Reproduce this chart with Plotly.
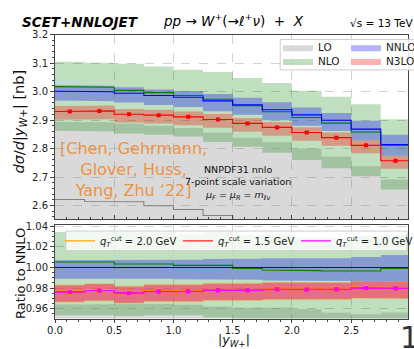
import plotly.graph_objects as go

# ---------------- data ----------------
edges = [0.0, 0.25, 0.5, 0.75, 1.0, 1.25, 1.5, 1.75, 2.0, 2.25, 2.5, 2.75, 3.0]

lo_c  = [2.621, 2.614, 2.613, 2.599, 2.586, 2.565, 2.540, 2.515, 2.485, 2.455, 2.415, 2.365]
lo_hi = [2.893, 2.892, 2.887, 2.880, 2.872, 2.855, 2.838, 2.822, 2.800, 2.772, 2.738, 2.691]
lo_lo = [2.370, 2.360, 2.360, 2.350, 2.330, 2.310, 2.290, 2.260, 2.230, 2.200, 2.160, 2.110]

nlo_c  = [3.017, 3.015, 3.004, 2.996, 2.986, 2.973, 2.950, 2.929, 2.909, 2.889, 2.858, 2.811]
nlo_hi = [3.104, 3.101, 3.097, 3.088, 3.076, 3.068, 3.047, 3.030, 3.003, 2.982, 2.955, 2.903]
nlo_lo = [2.862, 2.860, 2.853, 2.848, 2.842, 2.823, 2.806, 2.785, 2.760, 2.731, 2.703, 2.656]

nnlo_c  = [3.001, 2.999, 2.994, 2.986, 2.980, 2.967, 2.953, 2.936, 2.918, 2.899, 2.868, 2.814]
nnlo_hi = [3.022, 3.020, 3.015, 3.007, 3.002, 2.991, 2.978, 2.962, 2.944, 2.925, 2.897, 2.848]
nnlo_lo = [2.968, 2.966, 2.961, 2.953, 2.946, 2.931, 2.918, 2.899, 2.880, 2.861, 2.829, 2.775]

# N3LO, q_T^cut = 1.5 GeV (shown in the main panel)
n3lo_c   = [2.930, 2.932, 2.920, 2.917, 2.911, 2.902, 2.888, 2.874, 2.856, 2.838, 2.811, 2.757]
n3lo_hi  = [2.949, 2.951, 2.939, 2.936, 2.930, 2.921, 2.907, 2.893, 2.875, 2.856, 2.829, 2.775]
n3lo_lo  = [2.901, 2.903, 2.891, 2.888, 2.882, 2.873, 2.859, 2.845, 2.827, 2.810, 2.783, 2.729]
n3lo_err = [0.002, 0.002, 0.002, 0.002, 0.002, 0.002, 0.002, 0.002, 0.002, 0.002, 0.002, 0.002]

# N3LO, q_T^cut = 2.0 GeV
q20_c  = [2.932, 2.934, 2.922, 2.919, 2.913, 2.903, 2.890, 2.876, 2.858, 2.840, 2.813, 2.759]
q20_hi = [2.952, 2.954, 2.942, 2.939, 2.933, 2.923, 2.909, 2.895, 2.877, 2.858, 2.831, 2.777]
q20_lo = [2.898, 2.900, 2.888, 2.885, 2.879, 2.870, 2.857, 2.843, 2.825, 2.807, 2.780, 2.727]

# N3LO, q_T^cut = 1.0 GeV
q10_c  = [2.930, 2.932, 2.920, 2.916, 2.911, 2.901, 2.888, 2.874, 2.856, 2.838, 2.811, 2.757]
q10_hi = [2.948, 2.950, 2.938, 2.935, 2.929, 2.919, 2.906, 2.892, 2.874, 2.856, 2.828, 2.774]
q10_lo = [2.902, 2.904, 2.892, 2.889, 2.883, 2.874, 2.860, 2.846, 2.828, 2.811, 2.784, 2.731]

x_ticks_top = [0.0, 0.5, 1.0, 1.5, 2.0, 2.5, 3.0]

# ---------------- helpers ----------------
centers = [(edges[i] + edges[i + 1]) / 2 for i in range(len(edges) - 1)]


def step(vals):
    xs, ys = [], []
    for i, v in enumerate(vals):
        xs += [edges[i], edges[i + 1]]
        ys += [v, v]
    return xs, ys


def band(lo_v, hi_v):
    xu, yu = step(hi_v)
    xl, yl = step(lo_v)
    return xu + xl[::-1], yu + yl[::-1]


def ratio(vals):
    return [a / b for a, b in zip(vals, nnlo_c)]


GREY_F = "rgba(128,128,128,0.30)"
GREEN_F = "rgba(0,128,0,0.25)"
BLUE_F = "rgba(0,0,255,0.30)"
RED_F = "rgba(255,0,0,0.30)"
ORANGE_F = "rgba(255,165,0,0.30)"
MAG_F = "rgba(255,0,255,0.22)"

fig = go.Figure()


def add_band(lo_v, hi_v, color, name, xa, ya, legend=None):
    bx, by = band(lo_v, hi_v)
    fig.add_trace(go.Scatter(x=bx, y=by, fill="toself", fillcolor=color, mode="lines",
                             line=dict(width=0, color=color), name=name,
                             showlegend=legend is not None, legend=legend or "legend",
                             xaxis=xa, yaxis=ya, hoverinfo="skip"))


def add_line(vals, color, xa, ya, width=1.1, name=None, legend=None):
    sx, sy = step(vals)
    fig.add_trace(go.Scatter(x=sx, y=sy, mode="lines", line=dict(color=color, width=width),
                             name=name, showlegend=legend is not None, legend=legend or "legend",
                             xaxis=xa, yaxis=ya, hoverinfo="skip"))


# ---------------- top panel ----------------
add_band(lo_lo, lo_hi, GREY_F, "LO", "x", "y", "legend")
add_band(nlo_lo, nlo_hi, GREEN_F, "NLO", "x", "y", "legend2")
add_band(nnlo_lo, nnlo_hi, BLUE_F, "NNLO", "x", "y", "legend")
add_band(n3lo_lo, n3lo_hi, RED_F, "N3LO", "x", "y", "legend2")
add_line(lo_c, "#808080", "x", "y")
add_line(nlo_c, "#008000", "x", "y")
add_line(nnlo_c, "#0000ff", "x", "y")
add_line(n3lo_c, "#ff0000", "x", "y")
fig.add_trace(go.Scatter(x=centers, y=n3lo_c, mode="markers",
                         marker=dict(symbol="square", size=4, color="#ff0000"),
                         error_y=dict(type="data", array=n3lo_err, color="#ff0000", width=2, thickness=1),
                         showlegend=False, xaxis="x", yaxis="y", hoverinfo="skip"))

# ---------------- ratio panel ----------------
add_band(ratio(lo_lo), ratio(lo_hi), GREY_F, None, "x2", "y2")
add_band(ratio(nlo_lo), ratio(nlo_hi), GREEN_F, None, "x2", "y2")
add_band(ratio(nnlo_lo), ratio(nnlo_hi), BLUE_F, None, "x2", "y2")
add_band(ratio(q20_lo), ratio(q20_hi), ORANGE_F, None, "x2", "y2")
add_band(ratio(n3lo_lo), ratio(n3lo_hi), RED_F, None, "x2", "y2")
add_band(ratio(q10_lo), ratio(q10_hi), MAG_F, None, "x2", "y2")
add_line(ratio(nlo_c), "#008000", "x2", "y2")
add_line(ratio(nnlo_c), "#0000ff", "x2", "y2")
add_line(ratio(q20_c), "#ffa500", "x2", "y2", 1.2,
         "<i>q</i><sub><i>T</i></sub><sup>cut</sup> = 2.0 GeV", "legend3")
add_line(ratio(n3lo_c), "#ff2020", "x2", "y2", 1.2,
         "<i>q</i><sub><i>T</i></sub><sup>cut</sup> = 1.5 GeV", "legend3")
add_line(ratio(q10_c), "#ff00ff", "x2", "y2", 1.2,
         "<i>q</i><sub><i>T</i></sub><sup>cut</sup> = 1.0 GeV", "legend3")
for vals, col in [(q20_c, "#ffa500"), (n3lo_c, "#ff2020"), (q10_c, "#ff00ff")]:
    fig.add_trace(go.Scatter(x=centers, y=ratio(vals), mode="markers",
                             marker=dict(symbol="square", size=4, color=col),
                             showlegend=False, xaxis="x2", yaxis="y2", hoverinfo="skip"))

# ---------------- layout ----------------
W, H = 414, 349
L = 55
PW = W - L


def px_x(p):
    return (p - L) / PW


def px_y(p):
    return 1 - p / H


font = "DejaVu Sans"
axis_common = dict(showline=True, linecolor="#444", linewidth=1, mirror=True,
                   showgrid=True, gridcolor="#d2d2d2", griddash="dash", gridwidth=0.8,
                   tickfont=dict(family=font, size=10, color="#222"), tickcolor="#444",
                   zeroline=False)

fig.update_layout(
    width=W, height=H,
    margin=dict(l=L, r=0, t=0, b=0, pad=0),
    paper_bgcolor="white", plot_bgcolor="white",
    font=dict(family=font, color="#222"),
    xaxis=dict(domain=[0, 1], range=[0, 2.98], anchor="y", showticklabels=False,
               tickvals=x_ticks_top, ticks="inside", ticklen=4,
               minor=dict(ticks="inside", dtick=0.1, ticklen=2, tickcolor="#444", showgrid=False),
               **axis_common),
    yaxis=dict(domain=[px_y(217), px_y(29)], range=[2.5517, 3.2], anchor="x",
               dtick=0.1, tickformat=".1f", ticks="outside", ticklen=4,
               minor=dict(ticks="outside", dtick=0.02, ticklen=2, tickcolor="#444", showgrid=False),
               **axis_common),
    xaxis2=dict(domain=[0, 1], range=[0, 2.98], anchor="y2", matches="x",
                tickvals=x_ticks_top, tickformat=".1f", ticks="outside", ticklen=3,
                ticklabelstandoff=-1,
                minor=dict(ticks="outside", dtick=0.1, ticklen=2, tickcolor="#444", showgrid=False),
                **axis_common),
    yaxis2=dict(domain=[px_y(318), px_y(223)], range=[0.9505, 1.041], anchor="x2",
                dtick=0.02, tickformat=".2f", ticks="outside", ticklen=4,
                minor=dict(ticks="outside", dtick=0.005, ticklen=2, tickcolor="#444", showgrid=False),
                **axis_common),
    legend=dict(x=px_x(282), y=px_y(42), xanchor="left", yanchor="middle",
                orientation="h", entrywidth=23, entrywidthmode="pixels",
                bgcolor="rgba(0,0,0,0)", borderwidth=0,
                font=dict(family=font, size=10.5, color="#222"), tracegroupgap=0),
    legend2=dict(x=px_x(282), y=px_y(56), xanchor="left", yanchor="middle",
                 orientation="h", entrywidth=23, entrywidthmode="pixels",
                 bgcolor="rgba(0,0,0,0)", borderwidth=0,
                 font=dict(family=font, size=10.5, color="#222")),
    legend3=dict(x=px_x(64), y=px_y(239), xanchor="left", yanchor="middle",
                 orientation="h", entrywidth=73, entrywidthmode="pixels",
                 bgcolor="rgba(0,0,0,0)", borderwidth=0,
                 font=dict(family=font, size=10, color="#222")),
)

# legend frames
fig.add_shape(type="rect", xref="paper", yref="paper", x0=px_x(284), x1=1.05,
              y0=px_y(65), y1=px_y(34), fillcolor="rgba(255,255,255,0.85)",
              line=dict(color="#cccccc", width=1), layer="above")
fig.add_shape(type="rect", xref="paper", yref="paper", x0=px_x(66), x1=px_x(413),
              y0=px_y(249), y1=px_y(229), fillcolor="rgba(255,255,255,0.8)",
              line=dict(color="#cccccc", width=1), layer="above")

ann = [
    dict(text="<b><i>SCET+NNLOJET</i></b>", x=px_x(19), y=px_y(16), xanchor="left",
         yanchor="middle", font=dict(size=13.5, color="#000")),
    dict(text="<i>pp</i> → <i>W</i><sup>+</sup>(→<i>ℓ</i><sup>+</sup><i>ν</i>)  +  <i>X</i>",
         x=px_x(237), y=px_y(14), xanchor="center", yanchor="middle",
         font=dict(size=13.5, color="#000")),
    dict(text="√s = 13 TeV", x=px_x(353), y=px_y(17), xanchor="left", yanchor="middle",
         font=dict(size=10.5, color="#000")),
    dict(text="[Chen, Gehrmann,<br>Glover, Huss,<br>Yang, Zhu ‘22]", x=px_x(135), y=px_y(166),
         xanchor="center", yanchor="middle", font=dict(size=16, color="#EC9445")),
    dict(text="NNPDF31 nnlo<br>7-point scale variation<br><i>μ</i><sub><i>F</i></sub> = <i>μ</i><sub><i>R</i></sub> = <i>m</i><sub><i>ℓν</i></sub>",
         x=px_x(241), y=px_y(180), xanchor="center", yanchor="middle",
         font=dict(size=9.5, color="#111")),
    dict(text="<i>dσ</i>/<i>d</i>|<i>y</i><sub><i>W</i>+</sub>| [nb]", x=px_x(19), y=px_y(118),
         xanchor="center", yanchor="middle", textangle=-90, font=dict(size=14.5, color="#111")),
    dict(text="Ratio to NNLO", x=px_x(20), y=px_y(272), xanchor="center", yanchor="middle",
         textangle=-90, font=dict(size=13, color="#111")),
    dict(text="|<i>y</i><sub><i>W</i>+</sub>|", x=px_x(237), y=px_y(340.5), xanchor="center",
         yanchor="middle", font=dict(size=12.5, color="#111"), borderpad=0),
    dict(text="1", x=px_x(404), y=px_y(337), xanchor="left", yanchor="middle",
         font=dict(size=30, color="#333")),
]
for a in ann:
    fig.add_annotation(xref="paper", yref="paper", showarrow=False, **a)

fig.write_html("out.html")
